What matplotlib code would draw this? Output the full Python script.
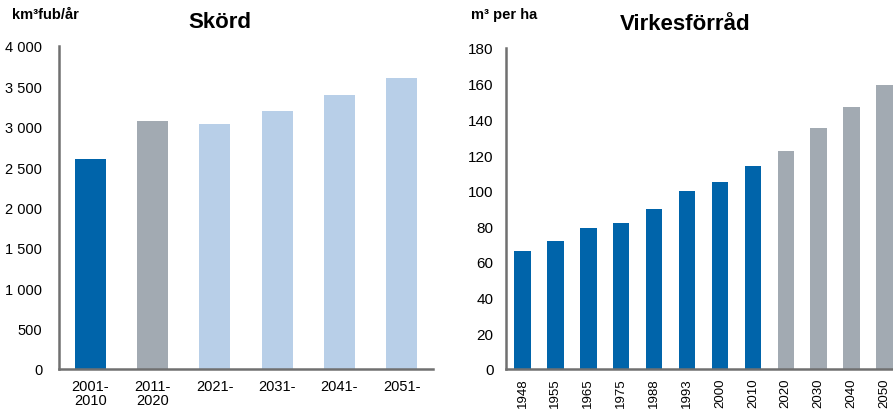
import numpy as np
import matplotlib.pyplot as plt

plt.rcParams['font.family'] = ['Liberation Sans', 'DejaVu Sans']

# Skörd (harvest), km3fub/år
harvest_labels = ['2001-\n2010', '2011-\n2020', '2021-', '2031-', '2041-', '2051-']
harvest_values = [2600, 3070, 3040, 3200, 3390, 3600]
harvest_colors = ['#0064AA', '#A2AAB2', '#B8CFE8', '#B8CFE8', '#B8CFE8', '#B8CFE8']

# Virkesförråd (standing volume), m3 per ha
stock_years = ['1948', '1955', '1965', '1975', '1988', '1993', '2000', '2010',
               '2020', '2030', '2040', '2050']
stock_values = [66, 72, 79, 82, 90, 100, 105, 114, 122, 135, 147, 159]
stock_colors = ['#0064AA'] * 8 + ['#A2AAB2'] * 4

W, H = 893, 414
fig = plt.figure(figsize=(W / 100, H / 100), dpi=100)

spine_col = '#707070'


def style(ax):
    for s in ['top', 'right']:
        ax.spines[s].set_visible(False)
    for s in ['left', 'bottom']:
        ax.spines[s].set_color(spine_col)
        ax.spines[s].set_linewidth(1.8)
    ax.tick_params(length=0, labelsize=10.5, colors='black')


# left chart
ax1 = fig.add_axes([59 / W, (H - 370) / H, 374 / W, 323 / H])
x1 = np.arange(len(harvest_values))
ax1.bar(x1, harvest_values, width=0.5, color=harvest_colors)
ax1.set_xlim(-0.5, len(harvest_values) - 0.5)
ax1.set_ylim(0, 4000)
ax1.set_yticks(np.arange(0, 4001, 500))
ax1.set_yticklabels([f'{v:,}'.replace(',', ' ') for v in range(0, 4001, 500)])
ax1.set_xticks(x1)
ax1.set_xticklabels(harvest_labels, linespacing=1.0)
style(ax1)
ax1.tick_params(axis='y', pad=12)
ax1.tick_params(axis='x', pad=7)

# right chart
ax2 = fig.add_axes([506 / W, (H - 370) / H, 395 / W, 321 / H])
x2 = np.arange(len(stock_values))
ax2.bar(x2, stock_values, width=0.5, color=stock_colors)
ax2.set_xlim(-0.5, len(stock_values) - 0.5)
ax2.set_ylim(0, 180)
ax2.set_yticks(np.arange(0, 181, 20))
ax2.set_xticks(x2)
ax2.set_xticklabels(stock_years, rotation=90)
style(ax2)
ax2.tick_params(axis='y', pad=9, labelsize=11)
ax2.tick_params(axis='x', pad=6, labelsize=9.5)

fig.text(220 / W, 1 - 22 / H, 'Skörd', fontsize=16, fontweight='bold',
         ha='center', va='center')
fig.text(685 / W, 1 - 24 / H, 'Virkesförråd', fontsize=16, fontweight='bold',
         ha='center', va='center')
fig.text(12 / W, 1 - 15 / H, 'km³fub/år', fontsize=10.5, fontweight='bold',
         ha='left', va='center')
fig.text(471 / W, 1 - 15 / H, 'm³ per ha', fontsize=10.5, fontweight='bold',
         ha='left', va='center')

fig.savefig('out.png', dpi=100)
